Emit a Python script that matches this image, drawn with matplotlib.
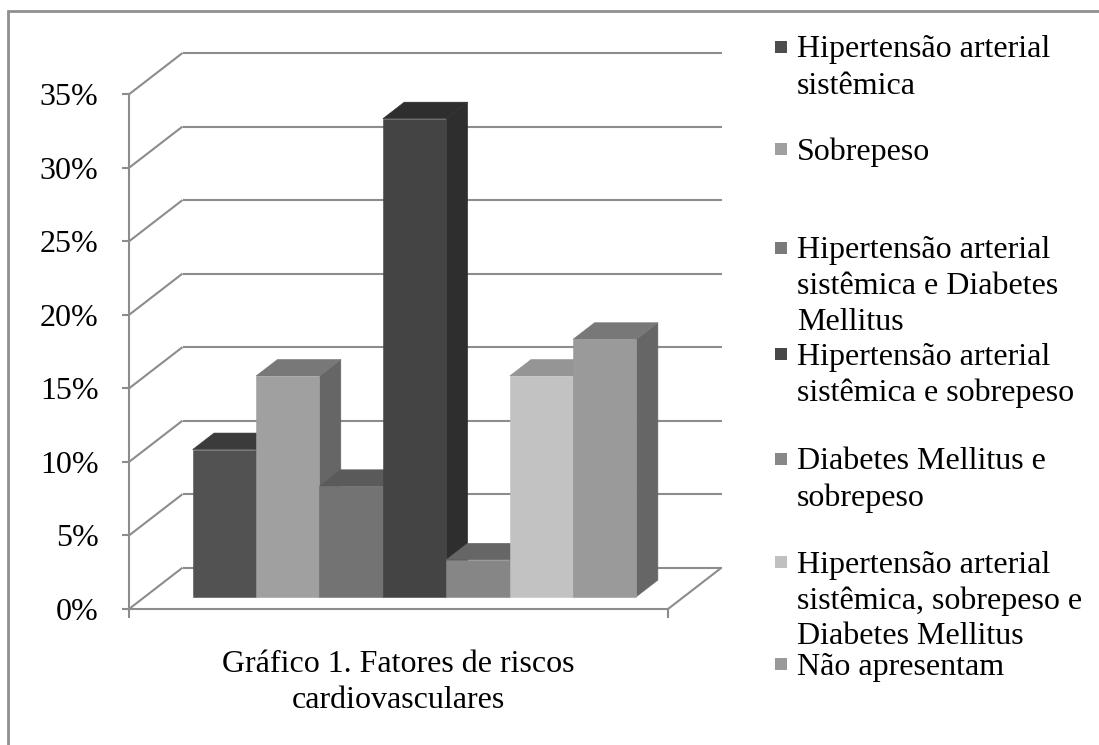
import matplotlib
matplotlib.use("Agg")
import matplotlib.pyplot as plt
from matplotlib.patches import Polygon, Rectangle
from matplotlib.transforms import IdentityTransform
from matplotlib.lines import Line2D

# ---- data -------------------------------------------------------------
categories = [
    "Hipertensão arterial\nsistêmica",
    "Sobrepeso",
    "Hipertensão arterial\nsistêmica e Diabetes\nMellitus",
    "Hipertensão arterial\nsistêmica e sobrepeso",
    "Diabetes Mellitus e\nsobrepeso",
    "Hipertensão arterial\nsistêmica, sobrepeso e\nDiabetes Mellitus",
    "Não apresentam",
]
values = [0.10, 0.15, 0.075, 0.325, 0.025, 0.15, 0.175]
y_ticks = [0.00, 0.05, 0.10, 0.15, 0.20, 0.25, 0.30, 0.35]
y_tick_labels = ["0%", "5%", "10%", "15%", "20%", "25%", "30%", "35%"]
title_lines = ["Gráfico 1. Fatores de riscos", "cardiovasculares"]

# ---- styles -----------------------------------------------------------
front_colors = ["#525252", "#a0a0a0", "#737373", "#444444", "#868686", "#c2c2c2", "#9a9a9a"]
top_colors = ["#3b3b3b", "#787878", "#5a5a5a", "#2e2e2e", "#666666", "#959595", "#787878"]
side_colors = ["#3b3b3b", "#666666", "#555555", "#2e2e2e", "#555555", "#8a8a8a", "#666666"]
legend_colors = ["#4d4d4d", "#a0a0a0", "#7a7a7a", "#474747", "#888888", "#c0c0c0", "#999999"]
grid_color = "#8c8c8c"
FONT = "Liberation Serif"
FS = 23

W, H, DPI = 1099, 745, 100
fig = plt.figure(figsize=(W / DPI, H / DPI), dpi=DPI)
fig.patch.set_facecolor("white")

# front plane of the 3-D box (pixels -> figure fractions)
L_PX, R_PX, B_PX, T_PX = 129, 668, 609, 94.3
ax = fig.add_axes([L_PX / W, 1 - B_PX / H, (R_PX - L_PX) / W, (B_PX - T_PX) / H])
ax.set_xlim(0, 1)
ax.set_ylim(0, 0.35)
ax.patch.set_visible(False)

# oblique depth offset of the full floor depth, in display pixels
DEPTH_DX, DEPTH_DY = 53.5, 41.3


def project(x, y, d):
    """Data point on the front plane pushed back by depth fraction d."""
    px, py = ax.transData.transform((x, y))
    return (px + d * DEPTH_DX, py + d * DEPTH_DY)


def poly(points, color, z):
    p = Polygon(points, closed=True, facecolor=color, edgecolor=color, lw=0.4,
                transform=IdentityTransform(), clip_on=False, zorder=z)
    ax.add_artist(p)


def seg(p0, p1, z=1):
    ln = Line2D([p0[0], p1[0]], [p0[1], p1[1]], color=grid_color, lw=1.5,
                transform=IdentityTransform(), clip_on=False, zorder=z,
                solid_capstyle="butt")
    ax.add_artist(ln)


# walls: left-wall diagonals and back-wall gridlines
for v in y_ticks:
    seg(project(0, v, 0), project(0, v, 1))
    seg(project(0, v, 1), project(1, v, 1))
# floor front-right edge
seg(project(1, 0, 0), project(1, 0, 1))

# axis spines / ticks
for s in ["top", "right"]:
    ax.spines[s].set_visible(False)
for s in ["left", "bottom"]:
    ax.spines[s].set_color(grid_color)
    ax.spines[s].set_linewidth(1.5)
ax.set_yticks(y_ticks)
ax.set_yticklabels(y_tick_labels, fontfamily=FONT, fontsize=FS)
ax.set_xticks([0, 1])
ax.set_xticklabels([])
ax.tick_params(axis="y", direction="out", length=5, width=1.5, color=grid_color, pad=17)
ax.tick_params(axis="x", direction="out", length=6.5, width=1.5, color=grid_color)

# bars (3-D clustered columns, gap width 150%, gap depth 150%)
n = len(values)
gap_width = 1.5
bar_w = 1.0 / (n + gap_width)
start = gap_width * bar_w / 2
d_front, d_back = 0.3, 0.7
for i, v in enumerate(values):
    x0 = start + i * bar_w
    x1 = x0 + bar_w
    z = 3 + i
    # right side face
    poly([project(x1, 0, d_front), project(x1, 0, d_back),
          project(x1, v, d_back), project(x1, v, d_front)], side_colors[i], z)
    # top face
    poly([project(x0, v, d_front), project(x1, v, d_front),
          project(x1, v, d_back), project(x0, v, d_back)], top_colors[i], z)
    # front face
    poly([project(x0, 0, d_front), project(x1, 0, d_front),
          project(x1, v, d_front), project(x0, v, d_front)], front_colors[i], z)

# title under the plot area
for j, line in enumerate(title_lines):
    fig.text(398 / W, 1 - (665 + j * 35) / H, line, ha="center", va="center",
             fontfamily=FONT, fontsize=FS)

# legend (manual, Excel-like spacing)
legend_first_line_y = [50, 152, 251, 357, 462, 565, 667]
line_step = 36
marker_px = 12
for label, col, y0 in zip(categories, legend_colors, legend_first_line_y):
    for j, line in enumerate(label.split("\n")):
        fig.text(797 / W, 1 - (y0 + j * line_step) / H, line, ha="left", va="center",
                 fontfamily=FONT, fontsize=FS)
    fig.add_artist(Rectangle((775 / W, 1 - (y0 - 3 + marker_px / 2) / H),
                             marker_px / W, marker_px / H, transform=fig.transFigure,
                             facecolor=col, edgecolor="none"))

# chart frame
fig.add_artist(Rectangle((8 / W, -0.01), 1.2, 1 - 11 / H + 0.01, transform=fig.transFigure,
                         facecolor="none", edgecolor="#8f8f8f", lw=2))

fig.savefig("out.png", dpi=DPI, facecolor="white")
